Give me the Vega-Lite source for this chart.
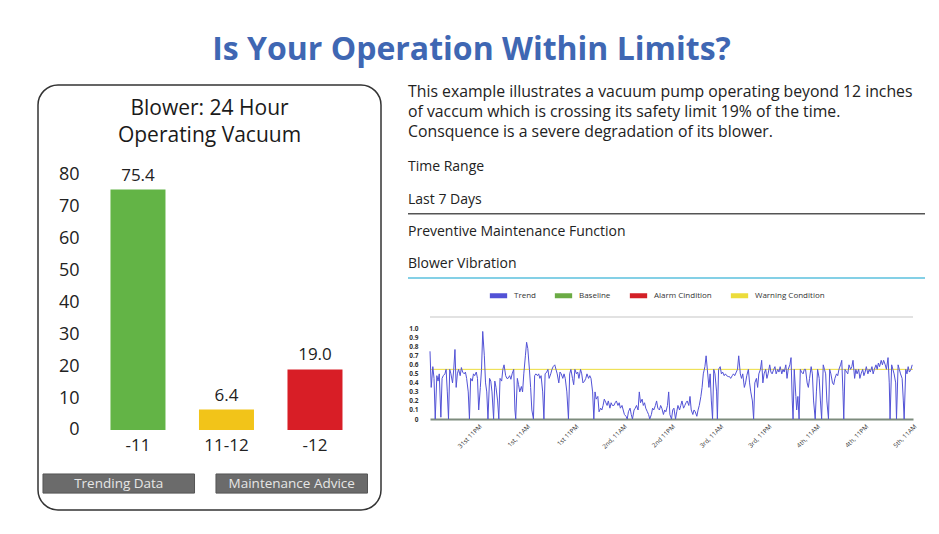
{
  "$schema": "https://vega.github.io/schema/vega-lite/v6.json",
  "background": "white",
  "padding": {"left": 37, "top": 34, "right": 10, "bottom": 10},
  "title": {"text": "Is Your Operation Within Limits?", "fontSize": 32, "fontWeight": "bold", "color": "#3f67b3", "anchor": "middle", "frame": "bounds", "offset": 17, "dx": -10},
  "config": {"font": "Open Sans", "view": {"stroke": null}, "axisY": {"labelOverlap": false}},
  "spacing": 25,
  "resolve": {"scale": {"color": "independent"}, "legend": {"color": "independent"}},
  "hconcat": [
    {
      "width": 343,
      "height": 425,
      "view": {"stroke": "#333333", "strokeWidth": 1.5, "cornerRadius": 20, "fill": "#ffffff"},
      "title": {"text": ["Blower: 24 Hour", "Operating Vacuum"], "fontSize": 21, "fontWeight": "normal", "color": "#1a1a1a", "anchor": "middle", "frame": "group", "offset": -61, "lineHeight": 27},
      "resolve": {"scale": {"x": "independent"}},
      "layer": [
        {
          "data": {"values": [{"cat": "-11", "pct": 75.4}, {"cat": "11-12", "pct": 6.4}, {"cat": "-12", "pct": 19.0}]},
          "mark": {"type": "bar"},
          "encoding": {
            "x": {"field": "cat", "type": "nominal", "sort": null, "scale": {"type": "band", "paddingInner": 0.3785, "paddingOuter": 0.627, "align": 0.653},
              "axis": {"orient": "bottom", "offset": -77, "title": null, "labelAngle": 0, "labelFontSize": 17, "labelColor": "#222222", "domain": false, "ticks": false, "labelPadding": 4}},
            "y": {"field": "pct", "type": "quantitative", "scale": {"domain": [-25.1, 108.2], "nice": false, "zero": false},
              "axis": {"values": [0, 10, 20, 30, 40, 50, 60, 70, 80], "title": null, "domain": false, "ticks": false, "grid": false, "offset": -44, "labelPadding": 3, "labelFontSize": 18, "labelColor": "#222222"}},
            "y2": {"datum": 0},
            "color": {"field": "cat", "type": "nominal", "scale": {"domain": ["-11", "11-12", "-12"], "range": ["#63b446", "#f2c419", "#d81e26"]}, "legend": null}
          }
        },
        {
          "data": {"values": [{"cat": "-11", "pct": 75.4}, {"cat": "11-12", "pct": 6.4}, {"cat": "-12", "pct": 19.0}]},
          "mark": {"type": "text", "dy": -14, "fontSize": 17, "color": "#222222"},
          "encoding": {
            "x": {"field": "cat", "type": "nominal", "sort": null, "scale": {"type": "band", "paddingInner": 0.3785, "paddingOuter": 0.627, "align": 0.653}, "axis": null},
            "y": {"field": "pct", "type": "quantitative"},
            "text": {"field": "pct", "type": "quantitative", "format": ".1f"}
          }
        },
        {
          "data": {"values": [{"box": "Trending Data"}, {"box": "Maintenance Advice"}]},
          "mark": {"type": "rect", "fill": "#6b6b6b", "stroke": "#555555", "strokeWidth": 1},
          "encoding": {
            "x": {"field": "box", "type": "nominal", "sort": null, "scale": {"type": "band", "paddingInner": 0.124, "paddingOuter": 0.0534, "align": 0.27}, "axis": null},
            "y": {"datum": -13.8},
            "y2": {"datum": -19.8}
          }
        },
        {
          "data": {"values": [{"box": "Trending Data"}, {"box": "Maintenance Advice"}]},
          "mark": {"type": "text", "fontSize": 13.5, "color": "#e6e6e6", "baseline": "middle"},
          "encoding": {
            "x": {"field": "box", "type": "nominal", "sort": null, "scale": {"type": "band", "paddingInner": 0.124, "paddingOuter": 0.0534, "align": 0.27}, "axis": null},
            "y": {"datum": -16.8},
            "text": {"field": "box"}
          }
        }
      ]
    },
    {
      "spacing": 5,
      "resolve": {"scale": {"color": "independent"}, "legend": {"color": "independent"}},
      "vconcat": [
        {
          "width": 495,
          "height": 193,
          "view": {"stroke": null},
          "data": {"values": [
            {"row": "intro", "label": "This example illustrates a vacuum pump operating beyond 12 inches\nof vaccum which is crossing its safety limit 19% of the time.\nConsquence is a severe degradation of its blower."},
            {"row": "Time Range", "label": "Time Range"},
            {"row": "Last 7 Days", "label": "Last 7 Days"},
            {"row": "Preventive Maintenance Function", "label": "Preventive Maintenance Function"},
            {"row": "Blower Vibration", "label": "Blower Vibration"}
          ]},
          "layer": [
            {
              "transform": [{"filter": "datum.row === 'intro'"}],
              "mark": {"type": "text", "align": "left", "baseline": "top", "fontSize": 15.8, "lineHeight": 20, "lineBreak": "\n", "dy": 0, "color": "#222222"},
              "encoding": {
                "y": {"field": "row", "type": "nominal", "bandPosition": 0, "axis": null, "scale": {"domain": ["intro", "intro2", "Time Range", "Last 7 Days", "Preventive Maintenance Function", "Blower Vibration"], "paddingInner": 0, "paddingOuter": 0}},
                "x": {"datum": 0, "type": "quantitative", "scale": {"domain": [0, 1], "range": [-22, 495]}, "axis": null},
                "text": {"field": "label"}
              }
            },
            {
              "transform": [{"filter": "datum.row !== 'intro'"}],
              "mark": {"type": "text", "align": "left", "baseline": "middle", "fontSize": 14, "dy": 2, "color": "#222222"},
              "encoding": {
                "y": {"field": "row", "type": "nominal"},
                "x": {"datum": 0, "type": "quantitative"},
                "text": {"field": "label"}
              }
            },
            {
              "transform": [{"filter": "datum.row === 'Last 7 Days'"}],
              "mark": {"type": "rule", "color": "#555555", "strokeWidth": 1.5},
              "encoding": {"y": {"field": "row", "type": "nominal", "bandPosition": 1}, "x": {"datum": 0, "type": "quantitative"}, "x2": {"datum": 1}}
            },
            {
              "transform": [{"filter": "datum.row === 'Blower Vibration'"}],
              "mark": {"type": "rule", "color": "#5bc0de", "strokeWidth": 1.5},
              "encoding": {"y": {"field": "row", "type": "nominal", "bandPosition": 1}, "x": {"datum": 0, "type": "quantitative"}, "x2": {"datum": 1}}
            }
          ]
        },
        {
          "width": 483,
          "height": 102,
          "view": {"stroke": null},
          "layer": [
            {
              "data": {"values": [{}]},
              "mark": {"type": "rule", "color": "#d9d9d9", "strokeWidth": 1.5},
              "encoding": {"y": {"datum": 1.13, "type": "quantitative", "scale": {"domain": [0, 1.13], "nice": false},
                "axis": {"values": [0, 0.1, 0.2, 0.3, 0.4, 0.5, 0.6, 0.7, 0.8, 0.9, 1.0], "labelExpr": "datum.value == 0 ? '0' : format(datum.value, '.1f')", "labelFontSize": 6.5, "labelFontWeight": "bold", "labelColor": "#333333", "labelOverlap": false, "labelBound": false, "domain": false, "ticks": false, "grid": false, "title": null, "labelPadding": 12}}}
            },
            {
              "data": {"values": [{}]},
              "mark": {"type": "rule", "strokeWidth": 1},
              "encoding": {"y": {"datum": 0.55, "type": "quantitative", "scale": {"domain": [0, 1.13], "nice": false},
                "axis": {"values": [0, 0.1, 0.2, 0.3, 0.4, 0.5, 0.6, 0.7, 0.8, 0.9, 1.0], "labelExpr": "datum.value == 0 ? '0' : format(datum.value, '.1f')", "labelFontSize": 6.5, "labelFontWeight": "bold", "labelColor": "#333333", "labelOverlap": false, "labelBound": false, "domain": false, "ticks": false, "grid": false, "title": null, "labelPadding": 12}},
                "color": {"datum": "Warning Condition", "type": "nominal",
                  "scale": {"domain": ["Trend", "Baseline", "Alarm Cindition", "Warning Condition"], "range": ["#5252d6", "#6bab45", "#d32027", "#ecdc3b"]}}}
            },
            {
              "data": {"values": [
{"t":0,"v":0.75},{"t":0.3,"v":0.35},{"t":0.7,"v":0.58},{"t":1.0,"v":0.45},{"t":1.3,"v":0},{"t":1.7,"v":0.48},{"t":2.0,"v":0.42},{"t":2.3,"v":0.5},{"t":2.7,"v":0.02},{"t":3.0,"v":0.45},{"t":3.3,"v":0.48},{"t":3.7,"v":0.5},{"t":4.0,"v":0.55},{"t":4.3,"v":0.3},{"t":4.6,"v":0},{"t":4.9,"v":0.55},{"t":5.2,"v":0.5},{"t":5.6,"v":0.4},{"t":5.9,"v":0.55},{"t":6.2,"v":0.77},{"t":6.5,"v":0.35},{"t":6.8,"v":0.5},{"t":7.1,"v":0.55},{"t":7.5,"v":0.48},{"t":7.8,"v":0.57},{"t":8.1,"v":0.52},{"t":8.5,"v":0.5},{"t":8.8,"v":0.52},{"t":9.1,"v":0.45},{"t":9.5,"v":0.3},{"t":9.8,"v":0},{"t":10.1,"v":0.45},{"t":10.5,"v":0.42},{"t":10.8,"v":0.5},{"t":11.1,"v":0.48},{"t":11.5,"v":0.52},{"t":11.8,"v":0.45},{"t":12.1,"v":0.1},{"t":12.5,"v":0.35},{"t":12.8,"v":0.55},{"t":13.1,"v":0.97},
{"t":13.5,"v":0.7},{"t":13.8,"v":0.4},{"t":14.1,"v":0.3},{"t":14.4,"v":0},{"t":14.8,"v":0.45},{"t":15.1,"v":0.42},{"t":15.4,"v":0.3},{"t":15.8,"v":0},{"t":16.1,"v":0.42},{"t":16.4,"v":0.35},{"t":16.8,"v":0.2},{"t":17.1,"v":0},{"t":17.4,"v":0.45},{"t":17.8,"v":0.42},{"t":18.1,"v":0.55},{"t":18.4,"v":0.6},{"t":18.8,"v":0.48},{"t":19.1,"v":0.45},{"t":19.4,"v":0.45},{"t":19.8,"v":0.48},{"t":20.1,"v":0.44},{"t":20.4,"v":0.5},{"t":20.8,"v":0.55},{"t":21.1,"v":0.1},{"t":21.3,"v":0},{"t":21.7,"v":0.45},{"t":22.0,"v":0.38},{"t":22.3,"v":0.3},{"t":22.7,"v":0.36},{"t":23.0,"v":0.3},{"t":23.3,"v":0.5},{"t":23.7,"v":0.7},{"t":24.0,"v":0.85},{"t":24.3,"v":0.78},{"t":24.7,"v":0.55},{"t":25.0,"v":0.35},{"t":25.3,"v":0.1},{"t":25.7,"v":0},{"t":26.0,"v":0.48},{"t":26.3,"v":0.5},
{"t":26.7,"v":0.48},{"t":27.0,"v":0.5},{"t":27.3,"v":0.45},{"t":27.6,"v":0.48},{"t":28.0,"v":0.3},{"t":28.3,"v":0},{"t":28.6,"v":0.5},{"t":29.0,"v":0.52},{"t":29.3,"v":0.55},{"t":29.6,"v":0.45},{"t":30.0,"v":0.5},{"t":30.3,"v":0.55},{"t":30.6,"v":0.58},{"t":31.0,"v":0.6},{"t":31.3,"v":0.55},{"t":31.6,"v":0.5},{"t":32.0,"v":0.4},{"t":32.3,"v":0.52},{"t":32.6,"v":0.5},{"t":33.0,"v":0.45},{"t":33.3,"v":0.5},{"t":33.6,"v":0.45},{"t":34.0,"v":0.3},{"t":34.4,"v":0},{"t":34.7,"v":0.5},{"t":35.0,"v":0.55},{"t":35.4,"v":0.45},{"t":35.7,"v":0.38},{"t":36.0,"v":0.55},{"t":36.4,"v":0.5},{"t":36.7,"v":0.52},{"t":37.0,"v":0.45},{"t":37.4,"v":0.55},{"t":37.7,"v":0.5},{"t":38.0,"v":0.4},{"t":38.4,"v":0.42},{"t":38.7,"v":0.45},{"t":39.0,"v":0.5},{"t":39.4,"v":0.45},{"t":39.7,"v":0.48},{"t":40.0,"v":0.45},{"t":40.4,"v":0.3},{"t":40.7,"v":0},
{"t":41.0,"v":0.3},{"t":41.3,"v":0.22},{"t":41.7,"v":0.25},{"t":42.0,"v":0.08},{"t":42.4,"v":0.12},{"t":42.7,"v":0.1},{"t":43.0,"v":0.15},{"t":43.3,"v":0.22},{"t":43.7,"v":0.18},{"t":44.0,"v":0.15},{"t":44.3,"v":0.2},{"t":44.7,"v":0.12},{"t":45.0,"v":0.18},{"t":45.3,"v":0.15},{"t":45.7,"v":0.15},{"t":46.0,"v":0.18},{"t":46.3,"v":0.2},{"t":46.7,"v":0.15},{"t":47.0,"v":0.18},{"t":47.3,"v":0.12},{"t":47.7,"v":0.15},{"t":48.0,"v":0.1},{"t":48.3,"v":0.05},{"t":48.7,"v":0.03},{"t":49.0,"v":0},{"t":49.3,"v":0.08},{"t":49.7,"v":0.12},{"t":50.0,"v":0.05},{"t":50.3,"v":0},{"t":50.7,"v":0.1},{"t":51.0,"v":0.12},{"t":51.3,"v":0.15},{"t":51.7,"v":0.1},{"t":52.0,"v":0.3},{"t":52.3,"v":0.18},{"t":52.7,"v":0.22},{"t":53.0,"v":0.15},
{"t":53.3,"v":0.18},{"t":53.6,"v":0.12},{"t":54.0,"v":0.08},{"t":54.3,"v":0.05},{"t":54.6,"v":0},{"t":55.0,"v":0.05},{"t":55.3,"v":0.12},{"t":55.6,"v":0.1},{"t":56.0,"v":0.15},{"t":56.3,"v":0.2},{"t":56.6,"v":0.12},{"t":57.0,"v":0.1},{"t":57.3,"v":0.15},{"t":57.6,"v":0.12},{"t":58.0,"v":0.05},{"t":58.3,"v":0.1},{"t":58.6,"v":0.08},{"t":59.0,"v":0.15},{"t":59.3,"v":0.3},{"t":59.6,"v":0.05},{"t":60.0,"v":0},{"t":60.3,"v":0.1},{"t":60.6,"v":0.12},{"t":61.0,"v":0},{"t":61.3,"v":0.08},{"t":61.6,"v":0.15},{"t":62.0,"v":0.1},{"t":62.3,"v":0.15},{"t":62.6,"v":0.2},{"t":63.0,"v":0.12},{"t":63.3,"v":0.15},{"t":63.6,"v":0.18},{"t":63.9,"v":0.2},{"t":64.3,"v":0.15},{"t":64.6,"v":0.25},{"t":64.9,"v":0.1},{"t":65.3,"v":0.05},{"t":65.6,"v":0.1},{"t":65.9,"v":0.08},{"t":66.3,"v":0.03},{"t":66.6,"v":0.1},
{"t":66.9,"v":0.15},{"t":67.3,"v":0.25},{"t":67.6,"v":0.35},{"t":67.9,"v":0.5},{"t":68.3,"v":0.58},{"t":68.6,"v":0.7},{"t":68.9,"v":0.55},{"t":69.3,"v":0.35},{"t":69.6,"v":0.5},{"t":69.9,"v":0.2},{"t":70.2,"v":0},{"t":70.5,"v":0.55},{"t":70.8,"v":0.5},{"t":71.2,"v":0.3},{"t":71.4,"v":0},{"t":71.7,"v":0.55},{"t":72.1,"v":0.58},{"t":72.4,"v":0.5},{"t":72.7,"v":0.52},{"t":73.1,"v":0.48},{"t":73.4,"v":0.5},{"t":73.7,"v":0.48},{"t":74.1,"v":0.47},{"t":74.4,"v":0.47},{"t":74.7,"v":0.45},{"t":75.1,"v":0.48},{"t":75.4,"v":0.5},{"t":75.7,"v":0.48},{"t":76.1,"v":0.52},{"t":76.4,"v":0.55},{"t":76.7,"v":0.7},{"t":77.1,"v":0.5},{"t":77.4,"v":0.45},{"t":77.7,"v":0.5},{"t":78.1,"v":0.35},{"t":78.4,"v":0.4},{"t":78.7,"v":0.48},{"t":79.1,"v":0.55},{"t":79.4,"v":0.4},{"t":79.7,"v":0.3},
{"t":80.1,"v":0.2},{"t":80.4,"v":0},{"t":80.7,"v":0.4},{"t":81.1,"v":0.45},{"t":81.4,"v":0.35},{"t":81.7,"v":0.5},{"t":82.1,"v":0.55},{"t":82.4,"v":0.65},{"t":82.7,"v":0.4},{"t":83.0,"v":0.5},{"t":83.4,"v":0.55},{"t":83.7,"v":0.45},{"t":84.0,"v":0.5},{"t":84.4,"v":0.6},{"t":84.7,"v":0.52},{"t":85.0,"v":0.5},{"t":85.4,"v":0.55},{"t":85.7,"v":0.58},{"t":86.0,"v":0.5},{"t":86.4,"v":0.55},{"t":86.7,"v":0.52},{"t":87.0,"v":0.58},{"t":87.4,"v":0.5},{"t":87.7,"v":0.55},{"t":88.0,"v":0.52},{"t":88.4,"v":0.6},{"t":88.7,"v":0.45},{"t":89.0,"v":0.55},{"t":89.4,"v":0.6},{"t":89.7,"v":0.68},{"t":90.0,"v":0.2},{"t":90.2,"v":0},{"t":90.5,"v":0.55},{"t":90.9,"v":0.25},{"t":91.1,"v":0.1},{"t":91.4,"v":0.25},{"t":91.7,"v":0},{"t":92.0,"v":0.55},{"t":92.3,"v":0.52},{"t":92.7,"v":0.5},{"t":93.0,"v":0.55},
{"t":93.3,"v":0.55},{"t":93.7,"v":0.4},{"t":94.0,"v":0.35},{"t":94.3,"v":0.45},{"t":94.7,"v":0.58},{"t":95.0,"v":0.5},{"t":95.3,"v":0.2},{"t":95.7,"v":0},{"t":96.0,"v":0.3},{"t":96.3,"v":0.55},{"t":96.7,"v":0.45},{"t":97.0,"v":0.2},{"t":97.3,"v":0},{"t":97.7,"v":0.6},{"t":98.0,"v":0.55},{"t":98.3,"v":0.5},{"t":98.6,"v":0.2},{"t":99.0,"v":0},{"t":99.3,"v":0.55},{"t":99.6,"v":0.5},{"t":100.0,"v":0.4},{"t":100.3,"v":0.38},{"t":100.6,"v":0.45},{"t":101.0,"v":0.5},{"t":101.3,"v":0.48},{"t":101.6,"v":0.55},{"t":102.0,"v":0.6},{"t":102.3,"v":0.65},{"t":102.6,"v":0.3},{"t":102.8,"v":0},{"t":103.1,"v":0.55},{"t":103.5,"v":0.52},{"t":103.8,"v":0.5},{"t":104.1,"v":0.6},{"t":104.5,"v":0.55},{"t":104.8,"v":0.58},{"t":105.1,"v":0.65},{"t":105.5,"v":0.45},{"t":105.8,"v":0.55},{"t":106.1,"v":0.5},
{"t":106.5,"v":0.55},{"t":106.8,"v":0.45},{"t":107.1,"v":0.5},{"t":107.5,"v":0.55},{"t":107.8,"v":0.48},{"t":108.1,"v":0.52},{"t":108.4,"v":0.58},{"t":108.8,"v":0.5},{"t":109.1,"v":0.55},{"t":109.4,"v":0.52},{"t":109.8,"v":0.58},{"t":110.1,"v":0.5},{"t":110.4,"v":0.55},{"t":110.8,"v":0.6},{"t":111.1,"v":0.55},{"t":111.4,"v":0.62},{"t":111.7,"v":0.58},{"t":112.1,"v":0.65},{"t":112.4,"v":0.6},{"t":112.7,"v":0.65},{"t":113.1,"v":0.6},{"t":113.4,"v":0.55},{"t":113.8,"v":0.68},{"t":114.1,"v":0.4},{"t":114.3,"v":0},{"t":114.7,"v":0.6},{"t":115.0,"v":0.55},{"t":115.3,"v":0.5},{"t":115.7,"v":0.4},{"t":115.9,"v":0},{"t":116.3,"v":0.6},{"t":116.6,"v":0.55},{"t":116.9,"v":0.5},{"t":117.3,"v":0.45},{"t":117.6,"v":0.2},{"t":117.8,"v":0},{"t":118.2,"v":0.55},{"t":118.5,"v":0.5},{"t":118.8,"v":0.58},{"t":119.1,"v":0.52},{"t":119.5,"v":0.55},{"t":119.8,"v":0.6}
              ]},
              "mark": {"type": "line", "strokeWidth": 1},
              "encoding": {
                "x": {"field": "t", "type": "quantitative", "scale": {"domain": [0, 120], "nice": false, "zero": false},
                  "axis": {"values": [12, 24, 36, 48, 60, 72, 84, 96, 108, 120], "labelExpr": "['31st 11PM','1st, 11AM','1st 11PM','2nd, 11AM','2nd 11PM','3rd, 11AM','3rd, 11PM','4th, 11AM','4th, 11PM','5th, 11AM'][round(datum.value/12) - 1]", "labelAngle": -45, "labelFontSize": 6.3, "labelColor": "#333333", "labelOverlap": false, "ticks": false, "domain": true, "domainColor": "#7d8b7d", "domainWidth": 2, "grid": false, "title": null, "labelPadding": 4}},
                "y": {"field": "v", "type": "quantitative", "scale": {"domain": [0, 1.13], "nice": false},
                  "axis": {"values": [0, 0.1, 0.2, 0.3, 0.4, 0.5, 0.6, 0.7, 0.8, 0.9, 1.0], "labelExpr": "datum.value == 0 ? '0' : format(datum.value, '.1f')", "labelFontSize": 6.5, "labelFontWeight": "bold", "labelColor": "#333333", "labelOverlap": false, "labelBound": false, "domain": false, "ticks": false, "grid": false, "title": null, "labelPadding": 12}},
                "color": {"datum": "Trend", "type": "nominal",
                  "scale": {"domain": ["Trend", "Baseline", "Alarm Cindition", "Warning Condition"], "range": ["#5252d6", "#6bab45", "#d32027", "#ecdc3b"]},
                  "legend": {"orient": "none", "legendX": 57, "legendY": -33, "direction": "horizontal", "title": null, "symbolType": "stroke", "symbolStrokeWidth": 5, "symbolSize": 300, "labelFontSize": 8, "labelColor": "#333333", "columnPadding": 8, "labelOffset": 4}}
              }
            }
          ]
        }
      ]
    }
  ]
}
